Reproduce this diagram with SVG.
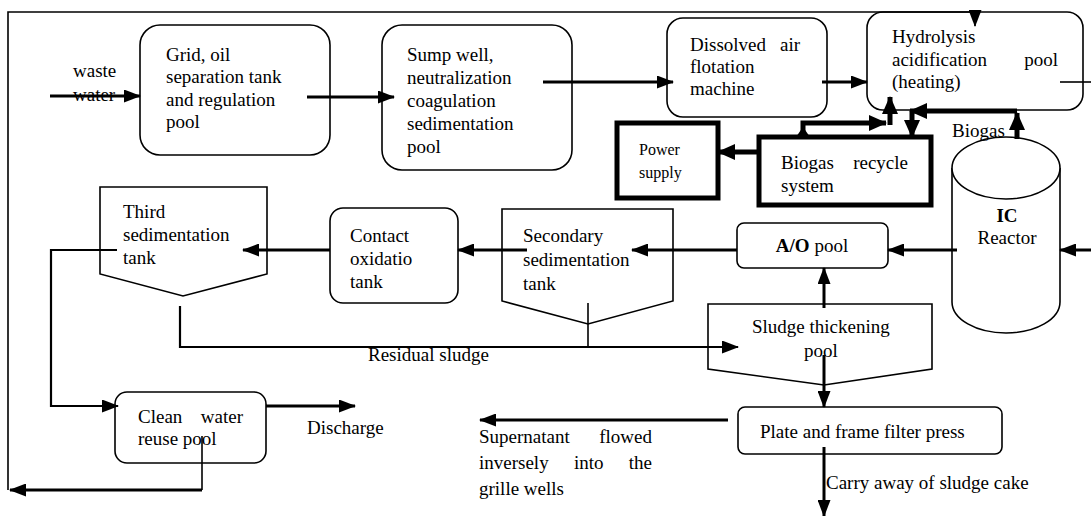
<svg xmlns="http://www.w3.org/2000/svg" width="1091" height="516" viewBox="0 0 1091 516" font-family="'Liberation Serif', 'Times New Roman', Tinos, 'DejaVu Serif', serif">
<style>
text{font-family:'Liberation Serif','Times New Roman',Tinos,'DejaVu Serif',serif;font-size:19px;fill:#000}
.sm{font-size:16px}
.b{font-weight:bold}
.box{fill:#fff;stroke:#000;stroke-width:1.6}
.tbox{fill:#fff;stroke:#000;stroke-width:5}
.ln{fill:none;stroke:#000;stroke-width:3}
.thin{fill:none;stroke:#000;stroke-width:1.6}
.mid{fill:none;stroke:#000;stroke-width:2.2}
.thk{fill:none;stroke:#000;stroke-width:5}
</style>
<defs>
<marker id="ah" markerUnits="userSpaceOnUse" markerWidth="17" markerHeight="13" refX="16" refY="6.5" orient="auto"><path d="M0,0 L17,6.5 L0,13 Z" fill="#000"/></marker>
<marker id="ahb" markerUnits="userSpaceOnUse" markerWidth="18" markerHeight="16" refX="17" refY="8" orient="auto"><path d="M0,0 L18,8 L0,16 Z" fill="#000"/></marker>
</defs>
<rect width="1091" height="516" fill="#fff"/>

<g id="waste-water">
<text x="73" y="77">waste</text>
<text x="73" y="101">water</text>
</g>

<g id="grid">
<rect class="box" x="140" y="25" width="190" height="130" rx="20"/>
<text x="166" y="61">Grid, oil</text>
<text x="166" y="83">separation tank</text>
<text x="166" y="106">and regulation</text>
<text x="166" y="128">pool</text>
</g>

<g id="sump">
<rect class="box" x="382" y="25" width="190" height="145" rx="20"/>
<text x="407" y="61">Sump well,</text>
<text x="407" y="84">neutralization</text>
<text x="407" y="107">coagulation</text>
<text x="407" y="130">sedimentation</text>
<text x="407" y="153">pool</text>
</g>

<g id="daf">
<rect class="box" x="667" y="18" width="160" height="99" rx="16"/>
<text x="690" y="51">Dissolved</text>
<text x="800" y="51" text-anchor="end">air</text>
<text x="690" y="73">flotation</text>
<text x="690" y="95">machine</text>
</g>

<g id="hydrolysis">
<rect class="box" x="867" y="12" width="216" height="98" rx="16"/>
<text x="892" y="43">Hydrolysis</text>
<text x="892" y="66">acidification</text>
<text x="1058" y="66" text-anchor="end">pool</text>
<text x="892" y="88">(heating)</text>
</g>

<g id="power">
<rect class="tbox" x="617" y="123" width="101" height="75"/>
<text class="sm" x="639" y="155">Power</text>
<text class="sm" x="639" y="178">supply</text>
</g>

<g id="biogas-recycle">
<rect class="tbox" x="759" y="137" width="172" height="68"/>
<text x="781" y="169">Biogas</text>
<text x="908" y="169" text-anchor="end">recycle</text>
<text x="781" y="192">system</text>
</g>

<g id="ic-reactor">
<path class="box" d="M952,168 L952,302 A54,31 0 0 0 1060,302 L1060,168"/>
<ellipse class="box" cx="1006" cy="168" rx="54" ry="31"/>
<text class="b" x="1007" y="222" text-anchor="middle">IC</text>
<text x="1007" y="244" text-anchor="middle">Reactor</text>
</g>

<g id="biogas-label">
<text x="952" y="137">Biogas</text>
</g>

<g id="ao-pool">
<rect class="box" x="737" y="223" width="151" height="45" rx="7"/>
<text x="812" y="252" text-anchor="middle"><tspan class="b">A/O</tspan> pool</text>
</g>

<g id="secondary">
<path class="box" d="M502,209 L673,209 L673,301 L588,324 L502,301 Z"/>
<text x="523" y="242">Secondary</text>
<text x="523" y="266">sedimentation</text>
<text x="523" y="290">tank</text>
</g>

<g id="contact">
<rect class="box" x="330" y="208" width="128" height="95" rx="13"/>
<text x="350" y="242">Contact</text>
<text x="350" y="265">oxidatio</text>
<text x="350" y="288">tank</text>
</g>

<g id="third">
<path class="box" d="M100,187 L267,187 L267,274 L183,296 L100,274 Z"/>
<text x="123" y="218">Third</text>
<text x="123" y="241">sedimentation</text>
<text x="123" y="264">tank</text>
</g>

<g id="clean-water">
<rect class="box" x="115" y="392" width="151" height="71" rx="12"/>
<text x="138" y="423">Clean</text>
<text x="243" y="423" text-anchor="end">water</text>
<text x="138" y="445">reuse pool</text>
</g>

<g id="discharge">
<text x="307" y="434">Discharge</text>
</g>

<g id="residual">
<text x="368" y="361">Residual sludge</text>
</g>

<g id="thickening">
<path class="box" d="M708,304 L932,304 L932,369 L824,385 L708,369 Z"/>
<text x="752" y="333">Sludge thickening</text>
<text x="804" y="357">pool</text>
</g>

<g id="filter-press">
<rect class="box" x="738" y="407" width="264" height="47" rx="7"/>
<text x="760" y="438">Plate and frame filter press</text>
</g>

<g id="supernatant">
<text x="479" y="443">Supernatant</text>
<text x="652" y="443" text-anchor="end">flowed</text>
<text x="479" y="469">inversely</text>
<text x="574" y="469">into</text>
<text x="652" y="469" text-anchor="end">the</text>
<text x="479" y="495">grille wells</text>
</g>

<g id="sludge-cake">
<text x="826" y="489">Carry away of sludge cake</text>
</g>

<g id="connectors">
<path class="thin" d="M8,490 L8,12 L975,12"/>
<path class="thin" d="M975,12 L975,26" marker-end="url(#ah)"/>
<path class="ln" d="M202,490 L10,490" marker-end="url(#ah)"/>
<path class="thin" d="M202,436 L202,490"/>
<path class="ln" d="M50,96 L140,96" marker-end="url(#ah)"/>
<path class="ln" d="M307,97 L394,97" marker-end="url(#ah)"/>
<path class="ln" d="M543,82 L673,82" marker-end="url(#ah)"/>
<path class="ln" d="M822,82 L867,82" marker-end="url(#ah)"/>
<path class="thin" d="M1060,82 L1091,82"/>
<path class="ln" d="M1091,250 L1060,250" marker-end="url(#ah)"/>
<path class="ln" d="M957,250 L888,250" marker-end="url(#ah)"/>
<path class="ln" d="M737,250 L632,250" marker-end="url(#ah)"/>
<path class="ln" d="M527,250 L458,250" marker-end="url(#ah)"/>
<path class="ln" d="M330,250 L243,250" marker-end="url(#ah)"/>
<path class="mid" d="M117,250 L51,250 L51,406 L118,406" marker-end="url(#ah)"/>
<path class="ln" d="M266,406 L355,406" marker-end="url(#ah)"/>
<path class="mid" d="M180,306 L180,347 L738,347" marker-end="url(#ah)"/>
<path class="thin" d="M588,303 L588,347"/>
<path class="ln" d="M824,308 L824,268" marker-end="url(#ah)"/>
<path class="ln" d="M824,355 L824,407" marker-end="url(#ah)"/>
<path class="ln" d="M728,420 L480,420" marker-end="url(#ah)"/>
<path class="ln" d="M824,447 L824,516" marker-end="url(#ah)"/>
<path class="thk" d="M759,152 L718,152" marker-end="url(#ahb)"/>
<path class="thk" d="M803,137 L803,123 L886,123" marker-end="url(#ahb)"/>
<path d="M796,137 L803,127 L810,137 Z" fill="#000"/>
<path class="thk" d="M890,125 L890,97" marker-end="url(#ahb)"/>
<path class="thk" d="M1017,139 L1017,113" marker-end="url(#ahb)"/>
<path class="thk" d="M1017,111 L910,111" marker-end="url(#ahb)"/>
<path class="thk" d="M912,111 L912,137" marker-end="url(#ahb)"/>
</g>
</svg>
